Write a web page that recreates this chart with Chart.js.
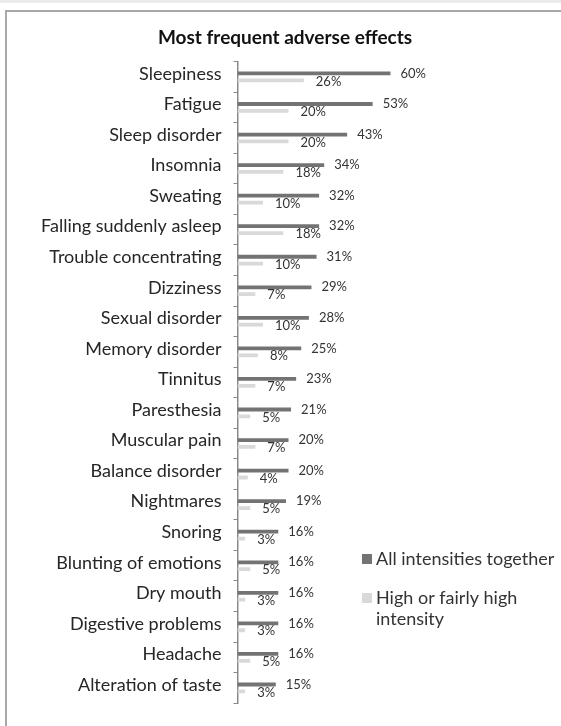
<!DOCTYPE html>
<html>
<head>
    <title>Most frequent adverse effects</title>
    <style>
        body {
            margin: 0;
            padding: 0;
            background-color: #fff;
        }

        .band {
            position: absolute;
            left: 0;
            top: 0;
            width: 561px;
            height: 3px;
            background-color: #ebebeb;
        }

        .frame {
            position: absolute;
            left: 5px;
            top: 10px;
            width: 600px;
            height: 760px;
            border-left: 2px solid #a8a8a8;
            border-top: 2px solid #a8a8a8;
        }

        .wrap {
            position: absolute;
            left: 0;
            top: 0;
            width: 561px;
            height: 726px;
            overflow: hidden;
        }
    </style>
</head>
<body>
    <div class="wrap">
        <div class="band"></div>
        <div class="frame"></div>
        <canvas id="effectsChart" width="561" height="726" style="position:absolute;left:0;top:0;"></canvas>
    </div>
    <script src="https://cdn.jsdelivr.net/npm/chart.js"></script>
    <script>
        var chartTitle = 'Most frequent adverse effects';

        var effects = [
            'Sleepiness', 'Fatigue', 'Sleep disorder', 'Insomnia', 'Sweating',
            'Falling suddenly asleep', 'Trouble concentrating', 'Dizziness',
            'Sexual disorder', 'Memory disorder', 'Tinnitus', 'Paresthesia',
            'Muscular pain', 'Balance disorder', 'Nightmares', 'Snoring',
            'Blunting of emotions', 'Dry mouth', 'Digestive problems',
            'Headache', 'Alteration of taste'
        ];

        // percentages, all intensities together
        var allIntensities = [60, 53, 43, 34, 32, 32, 31, 29, 28, 25, 23, 21, 20, 20, 19, 16, 16, 16, 16, 16, 15];

        // percentages, high or fairly high intensity
        var highIntensity = [26, 20, 20, 18, 10, 18, 10, 7, 10, 8, 7, 5, 7, 4, 5, 3, 5, 3, 3, 5, 3];

        var seriesNames = ['All intensities together', 'High or fairly high intensity'];

        // value labels next to the bar ends
        var valueLabels = {
            id: 'valueLabels',
            afterDatasetsDraw: function(chart) {
                var ctx = chart.ctx;
                ctx.save();
                ctx.font = '13px Lato';
                ctx.fillStyle = '#333';
                ctx.textAlign = 'left';
                ctx.textBaseline = 'middle';
                chart.data.datasets.forEach(function(ds, i) {
                    var meta = chart.getDatasetMeta(i);
                    meta.data.forEach(function(bar, j) {
                        var gap = i === 0 ? 10 : 12;
                        var dy = i === 0 ? 0 : 1;
                        ctx.fillText(ds.data[j] + '%', bar.x + gap, bar.y + dy);
                    });
                });
                ctx.restore();
            }
        };

        // title and legend placed like the original sheet
        var sheetExtras = {
            id: 'sheetExtras',
            afterDraw: function(chart) {
                var ctx = chart.ctx;
                ctx.save();
                ctx.fillStyle = '#111';
                ctx.font = 'bold 19px Lato';
                ctx.textAlign = 'center';
                ctx.textBaseline = 'middle';
                ctx.fillText(chartTitle, 285, 38);

                ctx.font = '18px Lato';
                ctx.textAlign = 'left';
                var y = 559;
                chart.data.datasets.forEach(function(ds) {
                    ctx.fillStyle = ds.backgroundColor;
                    ctx.fillRect(362, y - 5, 10, 10);
                    ctx.fillStyle = '#333';
                    // simple word wrap
                    var words = ds.label.split(' ');
                    var line = '';
                    var lines = [];
                    words.forEach(function(w) {
                        var test = line ? line + ' ' + w : w;
                        if (ctx.measureText(test).width > 182 && line) {
                            lines.push(line);
                            line = w;
                        } else {
                            line = test;
                        }
                    });
                    lines.push(line);
                    lines.forEach(function(l, k) {
                        ctx.fillText(l, 376, y + k * 21);
                    });
                    y += 39 + (lines.length - 1) * 21;
                });
                ctx.restore();
            }
        };

        var effectsChart = new Chart(document.getElementById('effectsChart'), {
            type: 'bar',
            data: {
                labels: effects,
                datasets: [{
                    label: seriesNames[0],
                    data: allIntensities,
                    backgroundColor: '#737373',
                    categoryPercentage: 0.45,
                    barPercentage: 0.55
                }, {
                    label: seriesNames[1],
                    data: highIntensity,
                    backgroundColor: '#d9d9d9',
                    categoryPercentage: 0.45,
                    barPercentage: 0.55
                }]
            },
            options: {
                indexAxis: 'y',
                responsive: false,
                animation: false,
                devicePixelRatio: 1,
                layout: {
                    padding: { left: 0, right: 68.5, top: 61.6, bottom: 9.4 }
                },
                plugins: {
                    legend: { display: false },
                    title: { display: false },
                    tooltip: { enabled: false }
                },
                scales: {
                    x: {
                        display: false,
                        min: 0,
                        max: 100
                    },
                    y: {
                        afterFit: function(scale) {
                            scale.width = 237.5;
                        },
                        border: {
                            display: true,
                            color: '#8a8a8a',
                            width: 1.5
                        },
                        grid: {
                            drawOnChartArea: false,
                            drawTicks: true,
                            tickLength: 4,
                            color: '#8a8a8a'
                        },
                        ticks: {
                            color: '#262626',
                            padding: 12,
                            labelOffset: -3,
                            font: { family: 'Lato', size: 18 }
                        }
                    }
                }
            },
            plugins: [valueLabels, sheetExtras]
        });
    </script>
</body>
</html>
